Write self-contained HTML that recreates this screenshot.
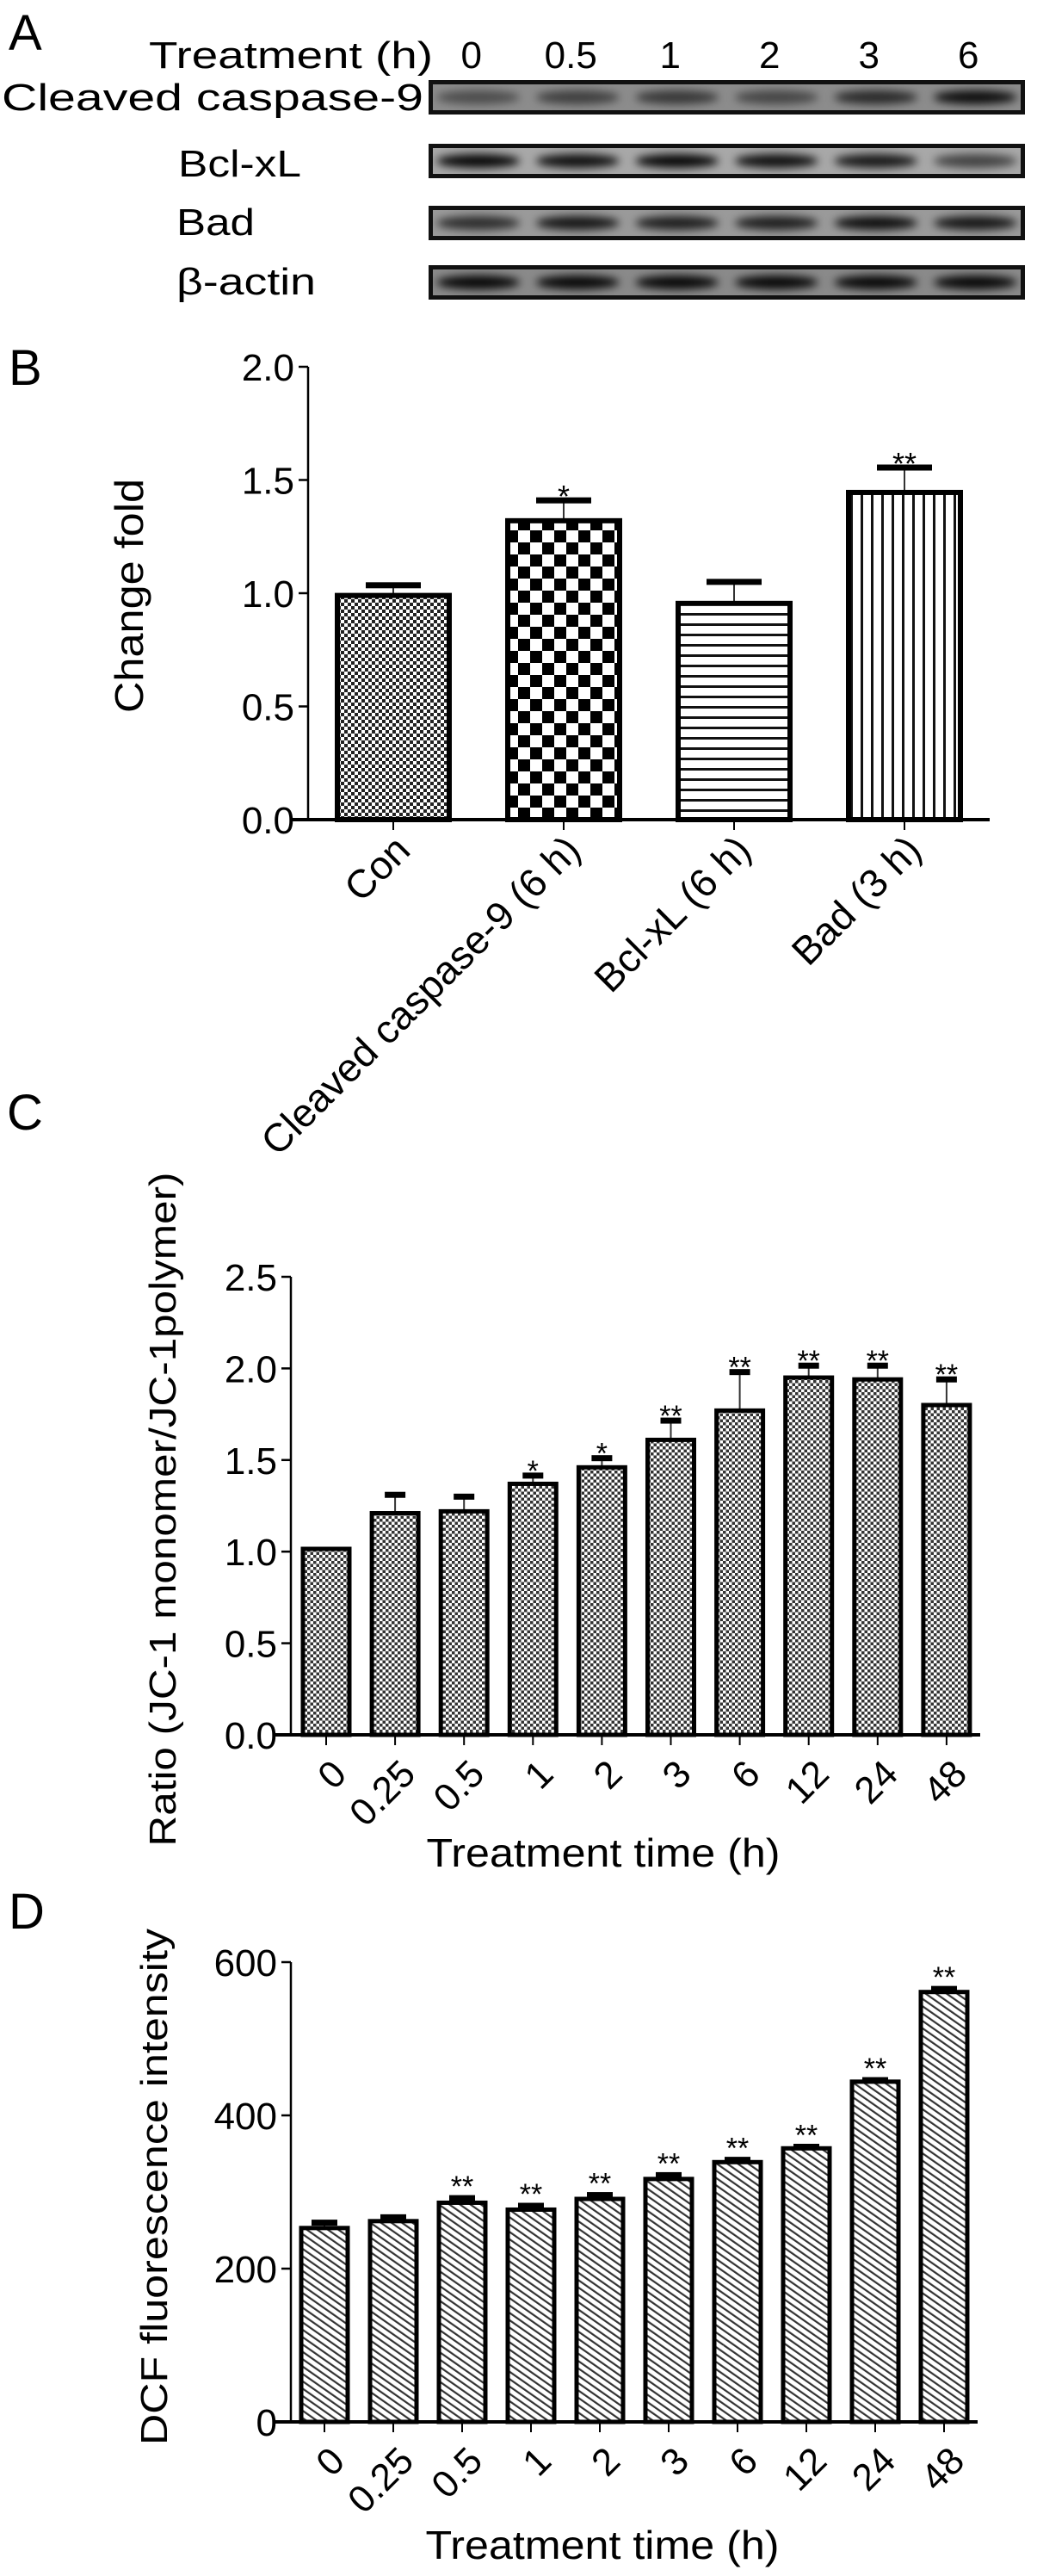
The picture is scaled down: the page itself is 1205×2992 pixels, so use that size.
<!DOCTYPE html>
<html><head><meta charset="utf-8"><style>
html,body{margin:0;padding:0;background:#fff;}
svg{display:block;font-family:"Liberation Sans",Arial,sans-serif;}
</style></head><body>
<svg id="fig" width="1205" height="2992" viewBox="0 0 1205 2992" xmlns="http://www.w3.org/2000/svg">
<defs>
<pattern id="pFine" width="8" height="8" patternUnits="userSpaceOnUse">
<rect width="8" height="8" fill="#fff"/><rect width="4" height="4" fill="#222"/><rect x="4" y="4" width="4" height="4" fill="#222"/></pattern>
<pattern id="pBig" width="28" height="28" patternUnits="userSpaceOnUse">
<rect width="28" height="28" fill="#fff"/><rect width="14" height="14" fill="#000"/><rect x="14" y="14" width="14" height="14" fill="#000"/></pattern>
<pattern id="pH" width="12" height="12" patternUnits="userSpaceOnUse">
<rect width="12" height="12" fill="#fff"/><rect y="4" width="12" height="3" fill="#111"/></pattern>
<pattern id="pV" width="12" height="12" patternUnits="userSpaceOnUse">
<rect width="12" height="12" fill="#fff"/><rect x="4" width="3" height="12" fill="#111"/></pattern>
<pattern id="pC" width="7" height="7" patternUnits="userSpaceOnUse">
<rect width="7" height="7" fill="#fff"/><rect width="3.5" height="3.5" fill="#333"/><rect x="3.5" y="3.5" width="3.5" height="3.5" fill="#333"/></pattern>
<pattern id="pD" width="7" height="7" patternUnits="userSpaceOnUse" patternTransform="rotate(-55)">
<rect width="7" height="7" fill="#fff"/><rect width="2.2" height="7" fill="#333"/></pattern>
<filter id="blur" x="-20%" y="-50%" width="140%" height="200%"><feGaussianBlur stdDeviation="5"/></filter>
</defs>

<g>
<text x="10" y="58" font-size="58">A</text>
<text x="173" y="79" font-size="44" textLength="330" lengthAdjust="spacingAndGlyphs">Treatment (h)</text>
<g id="laneLabels" font-size="44" text-anchor="middle"></g>
<text x="2" y="128" font-size="44" textLength="490" lengthAdjust="spacingAndGlyphs">Cleaved  caspase-9</text>
<text x="207" y="205" font-size="44" textLength="143" lengthAdjust="spacingAndGlyphs">Bcl-xL</text>
<text x="205" y="273" font-size="44" textLength="91" lengthAdjust="spacingAndGlyphs">Bad</text>
<text x="205" y="342" font-size="44" textLength="162" lengthAdjust="spacingAndGlyphs">β-actin</text>
<g id="blots"></g>
</g>

<g id="panelB">
<text x="10" y="447" font-size="58">B</text>
<text transform="translate(166,692) rotate(-90)" font-size="46" text-anchor="middle" textLength="272" lengthAdjust="spacingAndGlyphs">Change fold</text>
</g>

<g id="panelC">
<text x="8" y="1312" font-size="58">C</text>
<text transform="translate(204,1753) rotate(-90)" font-size="44" text-anchor="middle" textLength="783" lengthAdjust="spacingAndGlyphs">Ratio  (JC-1 monomer/JC-1polymer)</text>
<text x="701" y="2168" font-size="46" text-anchor="middle" textLength="411" lengthAdjust="spacingAndGlyphs">Treatment time (h)</text>
</g>

<g id="panelD">
<text x="10" y="2240" font-size="58">D</text>
<text transform="translate(194,2540) rotate(-90)" font-size="44" text-anchor="middle" textLength="600" lengthAdjust="spacingAndGlyphs">DCF fluorescence intensity</text>
<text x="700" y="2972" font-size="46" text-anchor="middle" textLength="411" lengthAdjust="spacingAndGlyphs">Treatment time (h)</text>
</g>
</svg>
<script>
// ---- Panel A data ----
const laneTimes = ["0","0.5","1","2","3","6"];
const blotNames = ["cleaved-caspase-9","bcl-xl","bad","beta-actin"];
const bandCasp = [0.45,0.55,0.6,0.5,0.7,0.9];
const bandBcl = [0.95,0.9,0.95,0.9,0.85,0.6];
const bandBad = [0.7,0.85,0.8,0.8,0.9,0.85];
const bandActin = [0.95,0.95,0.95,0.95,0.95,0.95];

// ---- Panel B data ----
const bCats = ["Con","Cleaved caspase-9 (6 h)","Bcl-xL (6 h)","Bad (3 h)"];
const bVals = [0.99,1.32,0.955,1.445];
const bErr = [0.045,0.09,0.095,0.11];
const bStars = ["","*","","**"];
const bTicks = ["0.0","0.5","1.0","1.5","2.0"];

// ---- Panel C data ----
const cCats = ["0","0.25","0.5","1","2","3","6","12","24","48"];
const cVals = [1.015,1.21,1.22,1.37,1.46,1.61,1.77,1.95,1.94,1.80];
const cErr = [0.0,0.10,0.08,0.045,0.05,0.105,0.21,0.065,0.075,0.14];
const cStars = ["","","","*","*","**","**","**","**","**"];
const cTicks = ["0.0","0.5","1.0","1.5","2.0","2.5"];

// ---- Panel D data ----
const dCats = ["0","0.25","0.5","1","2","3","6","12","24","48"];
const dVals = [253,262,286,277,291,317,339,357,444,561];
const dErr = [7,5,6,5,5,5,3,2,2,4];
const dStars = ["","","**","**","**","**","**","**","**","**"];
const dTicks = ["0","200","400","600"];

const NS="http://www.w3.org/2000/svg";
function mk(tag, attrs, parent){const e=document.createElementNS(NS,tag);for(const k in attrs)e.setAttribute(k,attrs[k]);parent.appendChild(e);return e;}

const laneG=document.getElementById('laneLabels');
const blotX0=498, blotX1=1191, laneW=(blotX1-blotX0)/laneTimes.length;
laneTimes.forEach((t,i)=>{
  const tx=mk('text',{x:blotX0+laneW*(i+0.5)-8,y:79},laneG);
  
  
  tx.textContent=t;
});
const blotsG=document.getElementById('blots');
const blotRows=[bandCasp,bandBcl,bandBad,bandActin];
const blotTops=[93,167,239,308];
const blotBg=["#8c8c8c","#a8a8a8","#9a9a9a","#8a8a8a"];
blotRows.forEach((row,r)=>{
  const g=mk('g',{},blotsG);
  
  
  const y=blotTops[r];
  mk('rect',{x:blotX0,y:y,width:blotX1-blotX0,height:40,fill:'#111'},g);
  mk('rect',{x:blotX0+5,y:y+5,width:blotX1-blotX0-10,height:30,fill:blotBg[r]},g);
  row.forEach((v,i)=>{
    const b=mk('ellipse',{cx:blotX0+laneW*(i+0.5),cy:y+20,rx:laneW*0.42,ry:8,fill:'#000','fill-opacity':v,filter:'url(#blur)'},g);
    
    
  });
});

function chart(gid,cfg){
  const g=document.getElementById(gid);
  const y=v=>cfg.y0-(v-cfg.min)/(cfg.max-cfg.min)*(cfg.y0-cfg.yTop);
  const x=i=>cfg.xc0+i*cfg.step;
  const ya=mk('line',{x1:cfg.ax,y1:cfg.yTop,x2:cfg.ax,y2:cfg.y0,stroke:'#000','stroke-width':2.5},g);
  
  
  cfg.ticks.forEach(t=>{
    const ty=y(parseFloat(t));
    mk('line',{x1:cfg.ax-11,y1:ty,x2:cfg.ax,y2:ty,stroke:'#000','stroke-width':2.5},g);
    const tl=mk('text',{x:cfg.ax-16,y:ty+16,'font-size':44,'text-anchor':'end'},g);
    
    
    tl.textContent=t;
  });
  cfg.vals.forEach((v,i)=>{
    const cx=x(i), top=y(v), et=y(v+cfg.err[i]);
    if(cfg.err[i]>0){
      mk('line',{x1:cx,y1:et,x2:cx,y2:top,stroke:'#333','stroke-width':2},g);
      const cap=mk('rect',{x:cx-cfg.capW/2,y:et-3.5,width:cfg.capW,height:7,fill:'#000'},g);
      
      
    }
    const fill=Array.isArray(cfg.fill)?cfg.fill[i]:cfg.fill;
    const bar=mk('rect',{x:cx-cfg.bw/2,y:top,width:cfg.bw,height:cfg.y0-top,fill:fill,stroke:'#000','stroke-width':cfg.sw},g);
    
    
    if(cfg.stars[i]){
      const s=mk('text',{x:cx,y:et-8+cfg.starDy,'font-size':cfg.starSize,'text-anchor':'middle'},g);
      
      
      s.textContent=cfg.stars[i];
    }
    mk('line',{x1:cx,y1:cfg.y0,x2:cx,y2:cfg.y0+12,stroke:'#000','stroke-width':2},g);
    const lab=mk('text',{transform:'translate('+(cx+cfg.lx)+','+(cfg.y0+cfg.ly)+') rotate(-45)','font-size':cfg.labSize,'text-anchor':'end'},g);
    
    
    lab.textContent=cfg.cats[i];
  });
  const xa=mk('line',{x1:cfg.xa0,y1:cfg.y0,x2:cfg.xa1,y2:cfg.y0,stroke:'#000','stroke-width':4},g);
  
  
}
chart('panelB',{p:'b',vals:bVals,err:bErr,stars:bStars,cats:bCats,ticks:bTicks,min:0,max:2,y0:952,yTop:426,ax:358,xa0:338,xa1:1150,
  xc0:457,step:198,bw:130,sw:6,capW:64,fill:['url(#pFine)','url(#pBig)','url(#pH)','url(#pV)'],starSize:36,starDy:16,lx:22,ly:38,labSize:46});
chart('panelC',{p:'c',vals:cVals,err:cErr,stars:cStars,cats:cCats,ticks:cTicks,min:0,max:2.5,y0:2015,yTop:1483,ax:338,xa0:319,xa1:1139,
  xc0:379,step:80.1,bw:54,sw:5,capW:24,fill:'url(#pC)',starSize:34,starDy:14,lx:26,ly:48,labSize:44});
chart('panelD',{p:'d',vals:dVals,err:dErr,stars:dStars,cats:dCats,ticks:dTicks,min:0,max:600,y0:2813,yTop:2279,ax:338,xa0:319,xa1:1136,
  xc0:377,step:80,bw:54,sw:5,capW:30,fill:'url(#pD)',starSize:34,starDy:6,lx:26,ly:48,labSize:44});
</script>
</body></html>
